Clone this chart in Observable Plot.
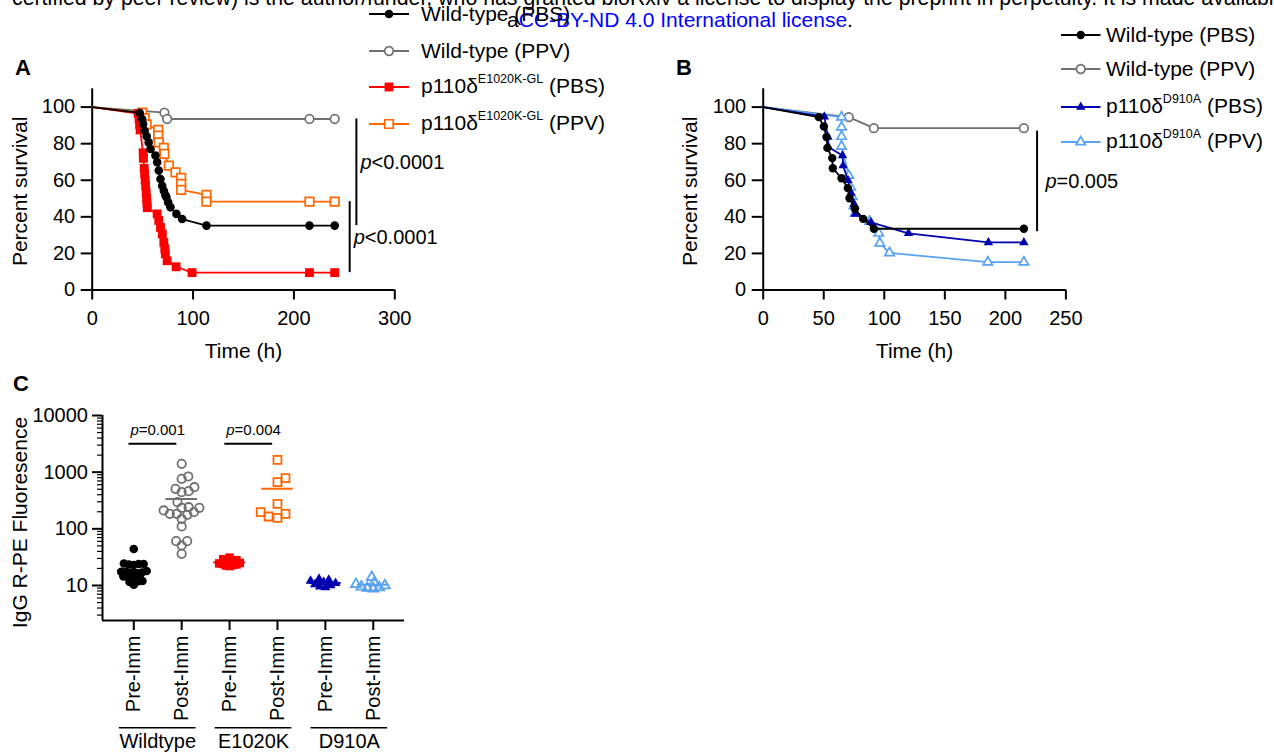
<!DOCTYPE html>
<html><head><meta charset="utf-8">
<script src="https://cdn.jsdelivr.net/npm/d3@7"></script>
<script src="https://cdn.jsdelivr.net/npm/@observablehq/plot@0.6"></script>
<style>
html,body{margin:0;padding:0;background:#fff;}
#page{position:relative;width:1274px;height:753px;overflow:hidden;font-family:"Liberation Sans",Arial,Helvetica,sans-serif;color:#000;background:#fff;}
.abs{position:absolute;white-space:nowrap;}
sup{font-size:12.5px;vertical-align:baseline;position:relative;top:-0.75em;}
</style></head>
<body><div id="page"></div>
<script>
const FONT = '"Liberation Sans", Arial, Helvetica, sans-serif';

// ================= DATA =================
// Panel A: [time (h), percent survival]
const A_xTicks = [0, 100, 200, 300];
const survTicks = [0, 20, 40, 60, 80, 100];
const A_WT_PBS = [[0,100],[47.2,96.8],[49.5,93.5],[50.5,90.8],[52,87.1],[54,84],[56,80.7],[57.8,77.1],[62.7,73.5],[64.4,69.8],[66,65.3],[67.7,60.7],[69.4,57],[71,54.3],[72.5,52],[73.6,50.7],[75.3,47.9],[77.6,45.2],[83.5,41.6],[89.2,38.8],[113.3,35.2],[215.4,35.2],[240.4,35.2]];
const A_WT_PPV = [[0,100],[71.6,97],[74.3,93.5],[215.4,93.5],[240.4,93.5]];
const A_E_PBS  = [[0,100],[45.5,96.5],[46.5,93.5],[47,90.5],[47.5,87.5],[50.5,75],[50.8,72],[51.5,66.5],[52,63.5],[52.5,60],[53,57],[53.5,53],[54,50],[54.3,47.5],[54.6,45],[64.4,41.6],[66,38],[67.7,34.2],[69.5,30.6],[71,26],[72,22.5],[72.5,19.8],[74.3,16],[83.2,12.7],[99,9.5],[215.4,9.5],[240.4,9.5]];
const A_E_PPV  = [[0,100],[49.5,97],[52,94],[54,90.5],[65.4,87.5],[65.4,84.4],[66,80.7],[71,77.7],[71.6,74.4],[76,68],[82.6,64.3],[88.2,61.3],[88.2,58],[88.2,54.7],[113.3,52],[113.3,48.3],[215.4,48.3],[240.4,48.3]];
const A_names = ["Wild-type (PBS)", "Wild-type (PPV)", "p110δ{E1020K-GL} (PBS)", "p110δ{E1020K-GL} (PPV)"];
const A_tests = [{a: 1, b: 0, label: "p<0.0001"}, {a: 3, b: 2, label: "p<0.0001"}];

// Panel B
const B_xTicks = [0, 50, 100, 150, 200, 250];
const B_WT_PBS = [[0,100],[45.9,94.5],[50.1,89.4],[52.3,83.6],[53,77.7],[57,72.1],[57.5,66.6],[64.7,61.1],[69.9,55.7],[71.3,50.2],[75.7,44.4],[82.6,38.9],[91.4,33.5],[215.3,33.5]];
const B_WT_PPV = [[0,100],[70.7,94.5],[91.4,88.5],[215.3,88.5]];
const B_D_PBS  = [[0,100],[50.5,94.7],[53.5,83.6],[54,78],[65.5,73.5],[66,68],[70,60],[72.5,53],[75,47],[76,41.5],[89,37],[120,31],[186,26],[215.3,26]];
const B_D_PPV  = [[0,100],[64.7,94.5],[64.7,89],[64.7,83.9],[64.7,78.5],[70.7,62.6],[72.1,56.2],[73.5,51],[75,46],[76,42],[88,37.5],[95.5,31],[96.3,25.6],[104.3,20.3],[185.5,15.2],[215.3,15.2]];
const B_names = ["Wild-type (PBS)", "Wild-type (PPV)", "p110δ{D910A} (PBS)", "p110δ{D910A} (PPV)"];
const B_tests = [{a: 1, b: 0, label: "p=0.005"}];

// Panel C: IgG R-PE fluorescence
const C_categories = ["Pre-Imm", "Post-Imm", "Pre-Imm", "Post-Imm", "Pre-Imm", "Post-Imm"];
const C_groupNames = ["Wildtype", "E1020K", "D910A"];
const C_yTicks = [10, 100, 1000, 10000];
const C_WT_pre  = [44, 24, 24.5, 23.5, 24, 23, 17, 17.5, 16.8, 17.2, 18, 16.5, 14, 14.5, 13.8, 14.2, 12, 11.5, 11.8, 10.3];
const C_WT_post = [1403, 839, 762, 508, 444, 462, 543, 295, 235, 235, 211, 241, 177, 184, 184, 197, 150, 110, 60.6, 50.8, 60.6, 36.2];
const C_E_pre   = [22, 22.5, 23, 23.5, 24, 24.5, 25, 25.5, 26.5, 27, 28, 29, 31];
const C_E_post  = [1652, 666, 783, 276, 184, 156, 165, 197];
const C_D_pre   = [9.3, 9.5, 10, 10.5, 11, 11.5, 12, 12.5, 13];
const C_D_post  = [8.8, 9, 9.2, 9.5, 10, 10.5, 11.2, 14];
const C_tests = [{from: 0, to: 1, label: "p=0.001"}, {from: 2, to: 3, label: "p=0.004"}];

// ================= STYLES =================
const C_BLACK = "#000000", C_GRAY = "#707070", C_RED = "#ff0000", C_ORANGE = "#ff6600", C_NAVY = "#0000b0", C_LIGHT = "#5aa2f2";
const A_series = [
  {data: A_WT_PBS, color: C_BLACK, symbol: "circle", filled: true, r: 4.3},
  {data: A_WT_PPV, color: C_GRAY, symbol: "circle", filled: false, r: 4.3},
  {data: A_E_PBS, color: C_RED, symbol: "square", filled: true, r: 5},
  {data: A_E_PPV, color: C_ORANGE, symbol: "square", filled: false, r: 4.8}
];
const B_series = [
  {data: B_WT_PBS, color: C_BLACK, symbol: "circle", filled: true, r: 4.2},
  {data: B_WT_PPV, color: C_GRAY, symbol: "circle", filled: false, r: 4.3},
  {data: B_D_PBS, color: C_NAVY, symbol: "triangle", filled: true, r: 3.5},
  {data: B_D_PPV, color: C_LIGHT, symbol: "triangle", filled: false, r: 3.5}
];
const C_styles = [
  {color: C_BLACK, symbol: "circle", filled: true, r: 4.3, D: 5},
  {color: C_GRAY, symbol: "circle", filled: false, r: 4.2, D: 7},
  {color: C_RED, symbol: "square", filled: true, r: 4.8, D: 3.6},
  {color: C_ORANGE, symbol: "square", filled: false, r: 4.5, D: 9},
  {color: C_NAVY, symbol: "triangle", filled: true, r: 3.7, D: 5.5},
  {color: C_LIGHT, symbol: "triangle", filled: false, r: 3.7, D: 6}
];

// ================= HELPERS =================
const page = document.getElementById("page");
function place(el, left, top, width) {
  const d = document.createElement("div");
  d.className = "abs";
  d.style.left = left + "px"; d.style.top = top + "px";
  if (width) d.style.width = width + "px";
  d.appendChild(el); page.appendChild(d); return d;
}
function html(str, left, top, css) {
  const d = document.createElement("div");
  d.className = "abs"; d.style.left = left + "px"; d.style.top = top + "px";
  d.style.cssText += css || "";
  d.innerHTML = str; page.appendChild(d); return d;
}
function italicP(svg) {
  svg.querySelectorAll("text").forEach(t => {
    const s = t.textContent;
    if (/^p[<=]/.test(s) && t.children.length === 0) {
      t.textContent = "";
      const ts = document.createElementNS("http://www.w3.org/2000/svg", "tspan");
      ts.setAttribute("font-style", "italic"); ts.textContent = "p";
      t.appendChild(ts); t.appendChild(document.createTextNode(s.slice(1)));
    }
  });
}
const symbolMap = {circle: d3.symbolCircle, square: d3.symbolSquare, triangle: d3.symbolTriangle};
function legend(names, series, left, rows, lineW, gap) {
  names.forEach((name, k) => {
    const s = series[k];
    const row = document.createElement("div");
    row.className = "abs";
    row.style.cssText += `left:${left}px;top:${rows[k] - 13}px;height:26px;display:flex;align-items:center;`;
    const sv = d3.create("svg").attr("width", lineW).attr("height", 26).style("overflow", "visible");
    sv.append("line").attr("x1", 0).attr("x2", lineW).attr("y1", 13).attr("y2", 13).attr("stroke", s.color).attr("stroke-width", 1.8);
    sv.append("path").attr("d", d3.symbol(symbolMap[s.symbol], Math.PI * s.r * s.r)())
      .attr("transform", `translate(${lineW / 2},13)`)
      .attr("fill", s.filled ? s.color : "white").attr("stroke", s.filled ? "none" : s.color).attr("stroke-width", 1.7);
    row.appendChild(sv.node());
    const sp = document.createElement("span");
    sp.style.cssText = `margin-left:${gap}px;font-size:21px;line-height:24px;`;
    sp.innerHTML = name.replace(/\{(.*?)\}/, "<sup>$1</sup>");
    row.appendChild(sp);
    page.appendChild(row);
  });
}

// ================= SURVIVAL PANELS =================
function survPlot({series, order, xDomain, xTicks, ml, mr, tests, testStyle, yLabelDx}) {
  const W = 420, H = 380;
  const marks = [
    Plot.axisX({ticks: xTicks, tickSize: 10, tickPadding: 11, strokeWidth: 2, fontSize: 20, label: null}),
    Plot.axisY({ticks: survTicks, tickSize: 11, tickPadding: 6, strokeWidth: 2, fontSize: 20, label: null}),
    Plot.ruleY([0], {strokeWidth: 2}),
    Plot.ruleX([0], {strokeWidth: 2})
  ];
  for (const k of order) {
    const s = series[k];
    marks.push(Plot.line(s.data, {x: d => d[0], y: d => d[1], stroke: s.color, strokeWidth: 1.8}));
    marks.push(Plot.dot(s.data.slice(1), {x: d => d[0], y: d => d[1], symbol: s.symbol, r: s.r,
      fill: s.filled ? s.color : "white", stroke: s.filled ? "none" : s.color, strokeWidth: 1.7}));
  }
  tests.forEach((t, i) => {
    const A = series[t.a].data, B = series[t.b].data;
    const row = {t: A[A.length - 1][0], s1: A[A.length - 1][1], s2: B[B.length - 1][1], label: t.label};
    const st = testStyle[i];
    marks.push(Plot.ruleX([row], {x: d => d.t, y1: d => d.s1, y2: d => d.s2, dx: st.dx, dy: st.dy, strokeWidth: 2}));
    marks.push(Plot.text([row], {x: d => d.t, y: d => (d.s1 + d.s2) / 2, text: d => d.label, dx: st.ldx, dy: st.ldy,
      textAnchor: "start", fontSize: 20}));
  });
  marks.push(Plot.text(["Time (h)"], {text: d => d, frameAnchor: "bottom", lineAnchor: "middle", textAnchor: "middle", dy: 61, fontSize: 21}));
  marks.push(Plot.text(["Percent survival"], {text: d => d, frameAnchor: "left", textAnchor: "middle", lineAnchor: "middle", dx: yLabelDx, dy: 2, rotate: -90, fontSize: 21}));
  const svg = Plot.plot({
    width: W, height: H, marginLeft: ml, marginRight: mr, marginTop: 88.3, marginBottom: 90.5,
    x: {domain: xDomain, label: null}, y: {domain: [0, 110], label: null},
    style: `background:none;max-width:none;overflow:visible;font-family:${FONT};color:#000;`,
    marks
  });
  italicP(svg);
  return svg;
}

const svgA = survPlot({series: A_series, order: [1, 3, 2, 0], xDomain: [0, 300], xTicks: A_xTicks,
  ml: 91.7, mr: 25.7, tests: A_tests,
  testStyle: [{dx: 21.7, dy: 0, ldx: 25.7, ldy: -10}, {dx: 15, dy: 0, ldx: 19, ldy: 0}], yLabelDx: -71.7});
place(svgA, 0, 0, 420);

const svgB = survPlot({series: B_series, order: [1, 3, 2, 0], xDomain: [0, 250], xTicks: B_xTicks,
  ml: 82.7, mr: 34.6, tests: B_tests,
  testStyle: [{dx: 13.2, dy: 3, ldx: 21.5, ldy: 3}], yLabelDx: -72.7});
place(svgB, 680, 0, 420);

// ================= PANEL C =================
const cW = 420, cH = 373, cML = 102, cMR = 16, cMT = 35, cMB = 133;
const xMin = -0.653, xMax = 5.652, yMin = 2.41, yMax = 10000;
const pxPerUnit = (cW - cML - cMR) / (xMax - xMin);
const pxPerDecade = (cH - cMT - cMB) / (Math.log10(yMax) - Math.log10(yMin));
function dodge(values, D) {
  const ys = values.map(v => Math.log10(v) * pxPerDecade);
  const order = d3.range(values.length).sort((a, b) => values[a] - values[b]);
  const placed = [], off = new Array(values.length);
  let flip = false;
  for (const i of order) {
    const y = ys[i];
    const cands = [0];
    for (const p of placed) {
      const dy = Math.abs(y - p.y);
      if (dy < D) { const dx = Math.sqrt(D * D - dy * dy); cands.push(p.x + dx, p.x - dx); }
    }
    cands.sort((a, b) => (Math.abs(a) - Math.abs(b)) || (flip ? a - b : b - a));
    const x = cands.find(c => placed.every(p => (p.x - c) ** 2 + (p.y - y) ** 2 >= D * D - 1e-6));
    placed.push({x, y}); off[i] = x / pxPerUnit; flip = !flip;
  }
  return off;
}
const C_sets = [C_WT_pre, C_WT_post, C_E_pre, C_E_post, C_D_pre, C_D_post];
const minorTicks = [];
for (let e = 0; e <= 3; e++) for (let m = 2; m <= 9; m++) { const v = m * 10 ** e; if (v >= yMin && v < yMax) minorTicks.push(v); }
const groupsData = C_groupNames.map((name, g) => ({name, mid: 2 * g + 0.5}));

const cMarks = [
  Plot.axisY({ticks: minorTicks, tickSize: 5, tickFormat: () => "", strokeWidth: 1.2, label: null}),
  Plot.axisY({ticks: C_yTicks, tickSize: 10, tickPadding: 4.5, tickFormat: d => String(d), strokeWidth: 2, fontSize: 20, label: null}),
  Plot.axisX({ticks: d3.range(C_categories.length), tickFormat: i => C_categories[i], tickRotate: -90,
    tickSize: 10, tickPadding: 5, strokeWidth: 2, fontSize: 20, label: null}),
  Plot.ruleX([xMin], {strokeWidth: 2}),
  Plot.ruleY([yMin], {strokeWidth: 2})
];
C_sets.forEach((vals, i) => {
  const st = C_styles[i];
  const off = dodge(vals, st.D);
  const pts = vals.map((v, j) => ({x: i + off[j], y: v}));
  cMarks.push(Plot.dot(pts, {x: "x", y: "y", symbol: st.symbol, r: st.r,
    fill: st.filled ? st.color : "none", stroke: st.filled ? "none" : st.color, strokeWidth: st.filled ? 0 : 1.8}));
  cMarks.push(Plot.ruleY([{i, m: d3.mean(vals)}], {y: "m", x1: d => d.i - 0.33, x2: d => d.i + 0.33, stroke: st.color, strokeWidth: 2}));
});
cMarks.push(Plot.ruleY(C_tests, {y: () => yMax, x1: d => d.from - 0.1, x2: d => d.to - 0.1, dy: 28.3, strokeWidth: 2}));
cMarks.push(Plot.text(C_tests, {y: () => yMax, x: d => (d.from + d.to) / 2, dy: 15, text: d => d.label, fontSize: 15}));
cMarks.push(Plot.ruleY(groupsData, {y: () => yMin, x1: d => d.mid - 0.8, x2: d => d.mid + 0.8, dy: 107.3, strokeWidth: 1.5}));
cMarks.push(Plot.text(groupsData, {x: d => d.mid, frameAnchor: "bottom", lineAnchor: "middle", textAnchor: "middle", dy: 121.5, text: d => d.name, fontSize: 20}));
cMarks.push(Plot.text(["IgG R-PE Fluoresence"], {text: d => d, frameAnchor: "left", textAnchor: "middle", lineAnchor: "middle", dx: -82, dy: 4.5, rotate: -90, fontSize: 21}));

const svgC = Plot.plot({
  width: cW, height: cH, marginLeft: cML, marginRight: cMR, marginTop: cMT, marginBottom: cMB,
  x: {domain: [xMin, xMax], label: null},
  y: {type: "log", domain: [yMin, yMax], label: null},
  style: `background:none;max-width:none;overflow:visible;font-family:${FONT};color:#000;`,
  marks: cMarks
});
italicP(svgC);
place(svgC, 0, 380, cW);

// ================= TEXT & LEGENDS =================
html("certified by peer review) is the author/funder, who has granted bioRxiv a license to display the preprint in perpetuity. It is made available under", 12, -14.5, "font-size:21.3px;");
html('a<span style="color:#0000ff">CC-BY-ND 4.0 International license</span>.', 507, 7.7, "font-size:21px;");
legend(A_names, A_series, 369, [14, 50.7, 87.3, 124], 40, 12);
legend(B_names, B_series, 1060.5, [35, 69.3, 107, 142], 39.5, 6);
html("A", 15, 55, "font-size:22px;font-weight:bold;");
html("B", 676, 55, "font-size:22px;font-weight:bold;");
html("C", 13, 371, "font-size:22px;font-weight:bold;");
</script>
</body></html>
